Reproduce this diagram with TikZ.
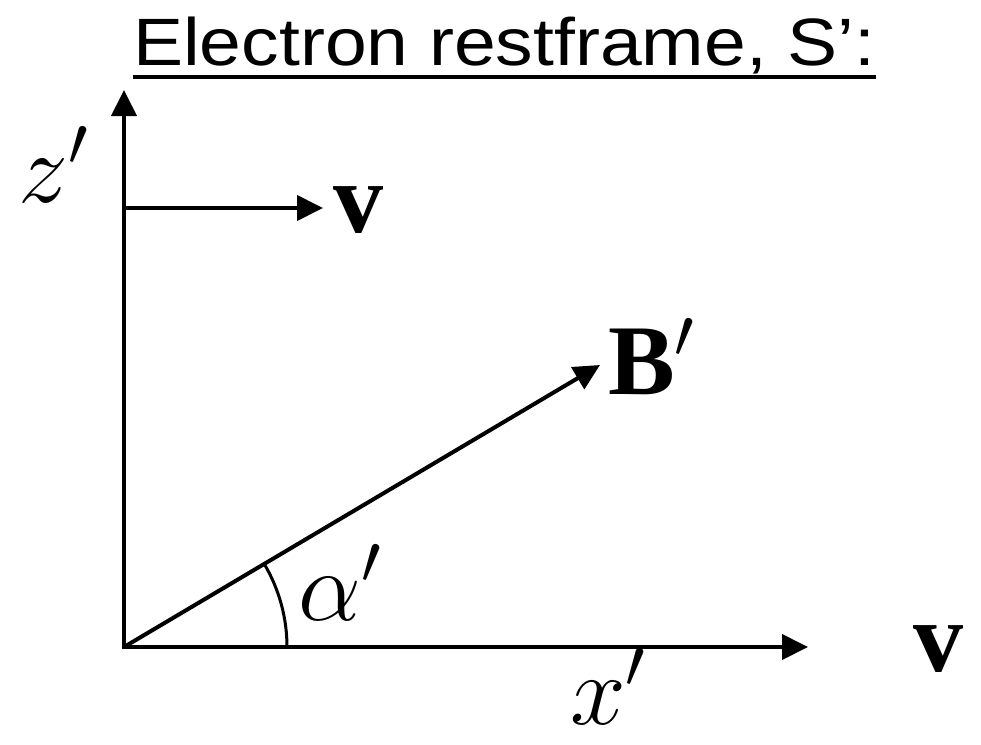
\RequirePackage{fix-cm}
\documentclass[tikz,border=0pt]{standalone}
\usepackage{fontspec}
\setmainfont{Liberation Serif}
\newfontfamily\titlefont{Liberation Sans}
\usetikzlibrary{arrows.meta}
\begin{document}
\begin{tikzpicture}[x=1pt,y=-1pt,
  vec/.style={line width=4pt,-{Triangle[length=26pt,width=25pt]}},
  lbl/.style={inner sep=0pt,anchor=base west,font=\fontsize{100}{100}\selectfont},
  ttl/.style={inner sep=0pt,anchor=base west,font=\titlefont\fontsize{67}{70}\selectfont}]
\useasboundingbox (0,0) rectangle (981,744);
\coordinate (O) at (124,647);
\coordinate (zT) at (124,90);
\coordinate (xT) at (808,647);
\coordinate (vS) at (124,208);
\coordinate (vT) at (323,208);
\coordinate (BT) at (600,365);
\node[ttl] (title) at (133,65) {\scalebox{1.12}[1]{Electron restframe, S’:}};
\draw[line width=3.5pt] ([yshift=-12pt]title.base west) -- ([yshift=-12pt]title.base east);
\draw[vec] ([yshift=2pt]O) -- (zT);
\draw[vec] ([xshift=-2pt]O) -- (xT);
\draw[vec] (vS) -- (vT);
\draw[vec] (O) -- (BT);
\draw[line width=3pt] ([shift={(163,0)}]O) arc[start angle=0,end angle=-30.6,radius=163];
\node[lbl] (zl) at (18,202) {$z'$};
\node[lbl] (xl) at (570,724) {$x'$};
\node[lbl] (vl1) at (333,232) {\bfseries v};
\node[lbl] (vl2) at (913,671) {\bfseries v};
\node[lbl] (Bl) at (608,394) {\bfseries B$'$};
\node[lbl] (al) at (298,620) {$\alpha'$};
\end{tikzpicture}
\end{document}
